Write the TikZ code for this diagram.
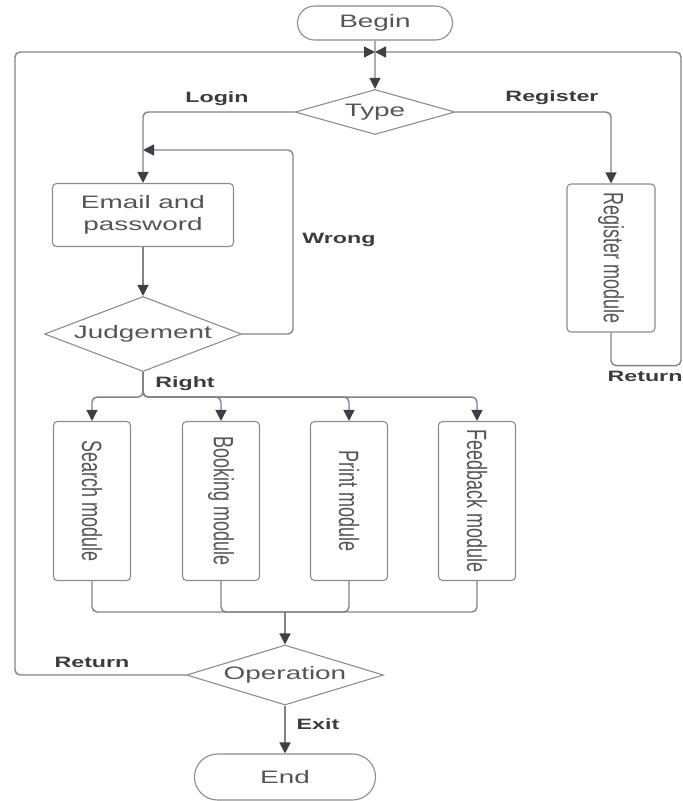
\documentclass[tikz,border=0pt]{standalone}
\usepackage{fontspec}
\setmainfont{Liberation Sans}[FakeStretch=1.55]
\newfontfamily\plainfont{Liberation Sans}
\usetikzlibrary{shapes.geometric,shapes.misc,arrows.meta}
\definecolor{linegray}{HTML}{7F8389}
\definecolor{tipdark}{HTML}{3B4049}
\definecolor{boxgray}{HTML}{8C8C8C}
\definecolor{txtgray}{HTML}{555555}
\definecolor{lblgray}{HTML}{3C3C3C}
% text running down inside the tall module boxes
\newcommand{\vtext}[1]{\rotatebox{-90}{\scalebox{1}[1.55]{\plainfont #1}}}

\begin{document}
\begin{tikzpicture}[x=1pt, y=-1pt,
  every node/.style={font=\fontsize{18}{22}\selectfont, text=txtgray},
  terminal/.style={rounded rectangle, draw=boxgray, line width=1.1pt, inner sep=0pt},
  box/.style={rectangle, rounded corners=4pt, draw=boxgray, line width=1.1pt, align=center, inner sep=0pt},
  decision/.style={diamond, draw=boxgray, line width=1.1pt, inner sep=0pt},
  lbl/.style={font=\fontsize{15}{18}\selectfont\bfseries, text=lblgray},
  conn/.style={draw=linegray, line width=1.4pt, rounded corners=5pt, -{Triangle[width=11pt,length=11pt,color=tipdark]}},
  line/.style={draw=linegray, line width=1.4pt, rounded corners=5pt}]
  \useasboundingbox (0,0) rectangle (683,801);
  \node[terminal, minimum width=155pt, minimum height=34pt] (begin) at (375,23) {Begin};
  \node[decision, shape aspect=3.56, minimum width=160pt, minimum height=45pt] (type) at (375,112) {Type};
  \node[box, minimum width=181pt, minimum height=63pt] (email) at (143,215) {Email and\\password};
  \node[decision, shape aspect=2.63, minimum width=197pt, minimum height=75pt] (judge) at (143,334) {Judgement};
  \node[box, minimum width=88pt, minimum height=148pt] (register) at (611,258) {\vtext{Register module}};
  \node[box, minimum width=77pt, minimum height=159pt] (search) at (92,501) {\vtext{Search module}};
  \node[box, minimum width=77pt, minimum height=159pt] (booking) at (221,501) {\vtext{Booking module}};
  \node[box, minimum width=77pt, minimum height=159pt] (print) at (349,501) {\vtext{Print module}};
  \node[box, minimum width=77pt, minimum height=159pt] (feedback) at (477,501) {\vtext{Feedback module}};
  \node[decision, shape aspect=3.28, minimum width=197pt, minimum height=60pt] (oper) at (285,675) {Operation};
  \node[terminal, minimum width=181pt, minimum height=46pt] (end) at (285,777) {End};
  % corner points of the loops
  \coordinate (jn) at (375,52);
  \coordinate (lt) at (15,52);
  \coordinate (rt) at (681,52);
  \coordinate (wr) at (293,150);
  \coordinate (wrin) at (143,150);
  \coordinate (merge) at (285,612);
  \draw[conn] (begin) -- (type);
  \draw[conn] (type.west) -| (email.north);
  \draw[conn] (type.east) -| (register.north);
  \draw[conn] (email) -- (judge);
  \draw[conn] (judge.east) -| (wr) -- (wrin);
  \draw[conn] (register.south) -- ++(0,33) -| (rt) -- (jn);
  \foreach \m in {search,booking,print,feedback}
    \draw[conn] (judge.south) -- ++(0,25) -| (\m.north);
  \foreach \m in {search,booking,print,feedback}
    \draw[line] (\m.south) |- (merge);
  \draw[conn] (merge) -- (oper);
  \draw[conn] (oper.west) -| (lt) -- (jn);
  \draw[conn] (oper) -- (end);
  \node[lbl] (llogin) at (217,99) {Login};
  \node[lbl] (lregister) at (552,98) {Register};
  \node[lbl] (lwrong) at (339,240) {Wrong};
  \node[lbl] (lright) at (185,384) {Right};
  \node[lbl] (lreturnr) at (645,376) {Return};
  \node[lbl] (lreturnl) at (92,662) {Return};
  \node[lbl] (lexit) at (318,724) {Exit};
\end{tikzpicture}
\end{document}
